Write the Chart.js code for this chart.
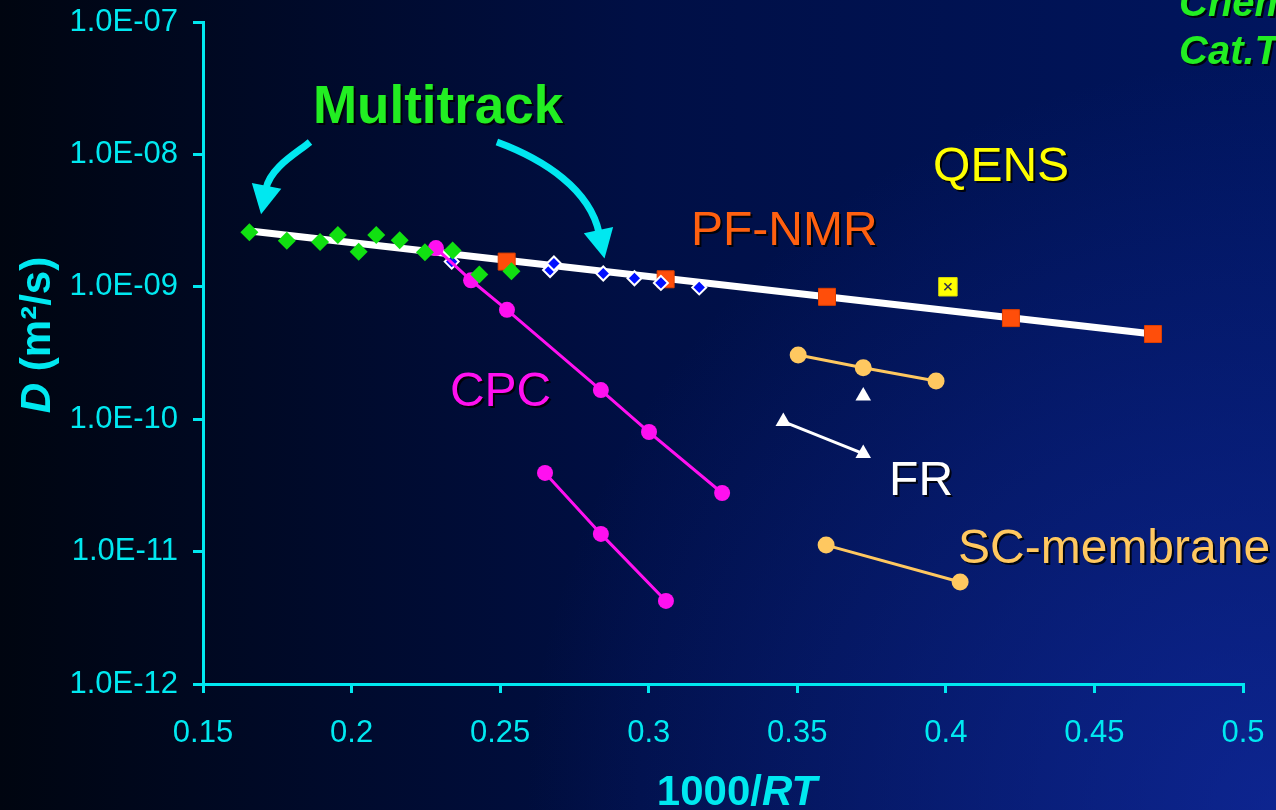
<!DOCTYPE html>
<html>
<head>
<meta charset="utf-8">
<script src="https://cdn.jsdelivr.net/npm/chart.js@4.4.1/dist/chart.umd.min.js"></script>
<style>
  html, body { margin: 0; padding: 0; background: #000a20; }
  canvas { display: block; }
</style>
</head>
<body>
<canvas id="c" width="1276" height="810"></canvas>
<script>
// ---------- data ----------
const xTickValues = [0.15, 0.2, 0.25, 0.3, 0.35, 0.4, 0.45, 0.5];
const xTickLabels = ['0.15', '0.2', '0.25', '0.3', '0.35', '0.4', '0.45', '0.5'];
const yTickValues = [1e-12, 1e-11, 1e-10, 1e-9, 1e-8, 1e-7];
const yTickLabels = ['1.0E-12', '1.0E-11', '1.0E-10', '1.0E-09', '1.0E-08', '1.0E-07'];

// Multitrack (green diamonds)
const mtGreenX = [0.1656, 0.1782, 0.1894, 0.1954, 0.2024, 0.2083, 0.2162, 0.2247, 0.2340, 0.2430, 0.2538];
const mtGreenD = [2.58e-9, 2.23e-9, 2.18e-9, 2.46e-9, 1.84e-9, 2.46e-9, 2.25e-9, 1.82e-9, 1.88e-9, 1.24e-9, 1.31e-9];
// Multitrack (blue diamonds)
const mtBlueX = [0.2337, 0.2668, 0.2681, 0.2847, 0.2952, 0.3041, 0.3170];
const mtBlueD = [1.55e-9, 1.34e-9, 1.50e-9, 1.26e-9, 1.16e-9, 1.07e-9, 0.99e-9];
// PF-NMR (orange squares)
const pfnmrX = [0.2522, 0.3057, 0.3600, 0.4219, 0.4697];
const pfnmrD = [1.55e-9, 1.14e-9, 8.4e-10, 5.8e-10, 4.4e-10];
// QENS
const qensX = [0.4007];
const qensD = [1.0e-9];
// Fit line (white)
const fitX = [0.1658, 0.4697];
const fitD = [2.64e-9, 4.4e-10];
// CPC (magenta)
const cpc1X = [0.2284, 0.2402, 0.2523, 0.2839, 0.3001, 0.3247];
const cpc1D = [1.96e-9, 1.12e-9, 6.7e-10, 1.66e-10, 8.0e-11, 2.77e-11];
const cpc2X = [0.2651, 0.2839, 0.3058];
const cpc2D = [3.93e-11, 1.36e-11, 4.24e-12];
// SC-membrane (light orange)
const sc1X = [0.3503, 0.3722, 0.3967];
const sc1D = [3.05e-10, 2.45e-10, 1.94e-10];
const sc2X = [0.3597, 0.4048];
const sc2D = [1.12e-11, 5.9e-12];
// FR (white triangles)
const fr1X = [0.3453, 0.3722];
const fr1D = [9.6e-11, 5.5e-11];
const fr2X = [0.3722];
const fr2D = [1.50e-10];

// annotation anchors (data coordinates)
const labelTexts = ['Multitrack', 'QENS', 'PF-NMR', 'CPC', 'FR', 'SC-membrane'];
const labelX = [0.1870, 0.3957, 0.3142, 0.2331, 0.3809, 0.4041];
const labelD = [1.73e-8, 6.3e-9, 2.07e-9, 1.26e-10, 2.67e-11, 8.2e-12];
const labelColors = ['#22ee22', '#ffff00', '#ff6010', '#ff10f0', '#ffffff', '#ffc860'];
const labelFonts = ['bold 53px', '48px', '48px', '48px', '48px', '48px'];
// arrows: cubic bezier P0, C1, C2, P3 in data coordinates
const arrowLeftX = [0.1860, 0.1820, 0.1726, 0.1712];
const arrowLeftD = [1.24e-8, 1.04e-8, 8.0e-9, 5.5e-9];
const arrowRightX = [0.2489, 0.2651, 0.2802, 0.2833];
const arrowRightD = [1.24e-8, 9.1e-9, 5.4e-9, 2.55e-9];

const FONT = '"Liberation Sans", Arial, sans-serif';
const CYAN = '#00e8f0';

const pts = (xs, ds) => xs.map((v, i) => ({ x: v, y: ds[i] }));

const bgPlugin = {
  id: 'bg',
  beforeDraw(chart) {
    const ctx = chart.ctx, w = chart.width, h = chart.height;
    ctx.save();
    const g = ctx.createLinearGradient(0, 0, w, 0);
    g.addColorStop(0, '#000510');
    g.addColorStop(0.5, '#000f45');
    g.addColorStop(1, '#00155e');
    ctx.fillStyle = g;
    ctx.fillRect(0, 0, w, h);
    const r = ctx.createRadialGradient(w, h, 0, w, h, 750);
    r.addColorStop(0, 'rgba(20,45,170,0.65)');
    r.addColorStop(1, 'rgba(20,45,170,0)');
    ctx.fillStyle = r;
    ctx.fillRect(0, 0, w, h);
    ctx.restore();
  }
};

const annoPlugin = {
  id: 'anno',
  afterDraw(chart) {
    const ctx = chart.ctx;
    const xs = chart.scales.x, ys = chart.scales.y;
    const P = (x, d) => [xs.getPixelForValue(x), ys.getPixelForValue(d)];
    ctx.save();
    // arrows
    const drawArrow = (ax, ad) => {
      const p = ax.map((v, i) => P(v, ad[i]));
      ctx.strokeStyle = CYAN;
      ctx.fillStyle = CYAN;
      ctx.lineWidth = 7;
      ctx.beginPath();
      ctx.moveTo(p[0][0], p[0][1]);
      ctx.bezierCurveTo(p[1][0], p[1][1], p[2][0], p[2][1], p[3][0], p[3][1]);
      ctx.stroke();
      let dx = p[3][0] - p[2][0], dy = p[3][1] - p[2][1];
      const L = Math.hypot(dx, dy); dx /= L; dy /= L;
      const hl = 29, hw = 15;
      const bx = p[3][0] - dx * 3, by = p[3][1] - dy * 3;
      ctx.beginPath();
      ctx.moveTo(bx + dx * hl, by + dy * hl);
      ctx.lineTo(bx - dy * hw, by + dx * hw);
      ctx.lineTo(bx + dy * hw, by - dx * hw);
      ctx.closePath();
      ctx.fill();
    };
    drawArrow(arrowLeftX, arrowLeftD);
    drawArrow(arrowRightX, arrowRightD);

    // labels with drop shadow
    ctx.shadowColor = 'rgba(0,0,0,0.85)';
    ctx.shadowOffsetX = 2;
    ctx.shadowOffsetY = 2;
    ctx.shadowBlur = 0;
    ctx.textAlign = 'left';
    ctx.textBaseline = 'alphabetic';
    labelTexts.forEach((t, i) => {
      const [px, py] = P(labelX[i], labelD[i]);
      ctx.font = labelFonts[i] + ' ' + FONT;
      ctx.fillStyle = labelColors[i];
      ctx.fillText(t, px, py);
    });
    // reference notes top right
    ctx.font = 'italic bold 40px ' + FONT;
    ctx.fillStyle = '#22ee22';
    ctx.fillText('Chem. Eng. Sci.', chart.width - 97, 16);
    ctx.fillText('Cat.Today', chart.width - 97, 64);
    ctx.shadowColor = 'transparent';

    // axis titles
    ctx.fillStyle = CYAN;
    const xa = chart.chartArea;
    const f1 = 'bold 42px ' + FONT, f2 = 'italic bold 42px ' + FONT;
    ctx.font = f1; const w1 = ctx.measureText('1000/').width;
    ctx.font = f2; const w2 = ctx.measureText('RT').width;
    let sx = (xa.left + xa.right) / 2 + 14 - (w1 + w2) / 2;
    ctx.font = f1; ctx.fillText('1000/', sx, 805);
    ctx.font = f2; ctx.fillText('RT', sx + w1, 805);
    // y title (rotated)
    ctx.save();
    ctx.translate(50, (xa.top + xa.bottom) / 2 - 18);
    ctx.rotate(-Math.PI / 2);
    ctx.font = f2; const v1 = ctx.measureText('D').width;
    ctx.font = f1; const v2 = ctx.measureText(' (m²/s)').width;
    const sy = -(v1 + v2) / 2;
    ctx.font = f2; ctx.fillText('D', sy, 0);
    ctx.font = f1; ctx.fillText(' (m²/s)', sy + v1, 0);
    ctx.restore();
    ctx.restore();
  }
};

const zeroPad = (s) => { s.paddingTop = 0; s.paddingBottom = 0; s.paddingLeft = 0; s.paddingRight = 0; };

new Chart(document.getElementById('c'), {
  type: 'scatter',
  data: {
    datasets: [
      { label: 'fit', data: pts(fitX, fitD), showLine: true, borderColor: '#ffffff', borderWidth: 7,
        pointRadius: 0, order: 10 },
      { label: 'PF-NMR', data: pts(pfnmrX, pfnmrD), pointStyle: 'rect', pointRadius: 12,
        backgroundColor: '#ff4e0a', borderColor: '#e04000', borderWidth: 1, order: 8 },
      { label: 'QENS', data: pts(qensX, qensD), pointStyle: 'rect', pointRadius: 13,
        backgroundColor: '#ffff00', borderColor: '#e0e000', borderWidth: 1, order: 8 },
      { label: 'QENS mark', data: pts(qensX, qensD), pointStyle: 'crossRot', pointRadius: 5,
        borderColor: '#303050', borderWidth: 1.5, backgroundColor: 'transparent', order: 7 },
      { label: 'Multitrack blue', data: pts(mtBlueX, mtBlueD), pointStyle: 'rectRot', pointRadius: 7,
        backgroundColor: '#0010ff', borderColor: '#ffffff', borderWidth: 2, order: 6 },
      { label: 'SC1', data: pts(sc1X, sc1D), showLine: true, borderColor: '#ffc860', borderWidth: 3,
        pointRadius: 8.5, backgroundColor: '#ffc860', pointBorderWidth: 0, order: 5 },
      { label: 'SC2', data: pts(sc2X, sc2D), showLine: true, borderColor: '#ffc860', borderWidth: 3,
        pointRadius: 8.5, backgroundColor: '#ffc860', pointBorderWidth: 0, order: 5 },
      { label: 'FR1', data: pts(fr1X, fr1D), showLine: true, borderColor: '#ffffff', borderWidth: 3,
        pointStyle: 'triangle', pointRadius: 9, backgroundColor: '#ffffff', pointBorderWidth: 0, order: 5 },
      { label: 'FR2', data: pts(fr2X, fr2D), pointStyle: 'triangle', pointRadius: 9,
        backgroundColor: '#ffffff', borderColor: '#ffffff', pointBorderWidth: 0, order: 5 },
      { label: 'CPC1', data: pts(cpc1X, cpc1D), showLine: true, borderColor: '#ff10f0', borderWidth: 3,
        pointRadius: 8, backgroundColor: '#ff10f0', pointBorderWidth: 0, order: 3 },
      { label: 'CPC2', data: pts(cpc2X, cpc2D), showLine: true, borderColor: '#ff10f0', borderWidth: 3,
        pointRadius: 8, backgroundColor: '#ff10f0', pointBorderWidth: 0, order: 3 },
      { label: 'Multitrack green', data: pts(mtGreenX, mtGreenD), pointStyle: 'rectRot', pointRadius: 9,
        backgroundColor: '#11e011', borderColor: '#11e011', borderWidth: 0, order: 1 }
    ]
  },
  options: {
    responsive: false,
    animation: false,
    devicePixelRatio: 1,
    layout: { padding: { top: 22, right: 33, left: 0, bottom: 0 } },
    plugins: { legend: { display: false }, tooltip: { enabled: false }, title: { display: false } },
    elements: { line: { tension: 0 } },
    scales: {
      x: {
        type: 'linear', min: 0.15, max: 0.5, position: 'bottom',
        afterBuildTicks: (s) => { s.ticks = xTickValues.map(v => ({ value: v })); },
        afterFit: (s) => { s.height = 126; zeroPad(s); },
        ticks: {
          color: CYAN, font: { family: FONT, size: 31 }, padding: 22, maxRotation: 0, autoSkip: false,
          callback: (v, i) => xTickLabels[i]
        },
        grid: { display: true, drawOnChartArea: false, drawTicks: true, tickLength: 9, color: CYAN, lineWidth: 3 },
        border: { display: true, color: CYAN, width: 3 }
      },
      y: {
        type: 'logarithmic', min: 1e-12, max: 1e-7,
        afterBuildTicks: (s) => { s.ticks = yTickValues.map(v => ({ value: v })); },
        afterFit: (s) => { s.width = 203; zeroPad(s); },
        ticks: {
          color: CYAN, font: { family: FONT, size: 31 }, padding: 15, autoSkip: false,
          callback: (v, i) => yTickLabels[i]
        },
        grid: { display: true, drawOnChartArea: false, drawTicks: true, tickLength: 10, color: CYAN, lineWidth: 3 },
        border: { display: true, color: CYAN, width: 3 }
      }
    }
  },
  plugins: [bgPlugin, annoPlugin]
});
</script>
</body>
</html>
